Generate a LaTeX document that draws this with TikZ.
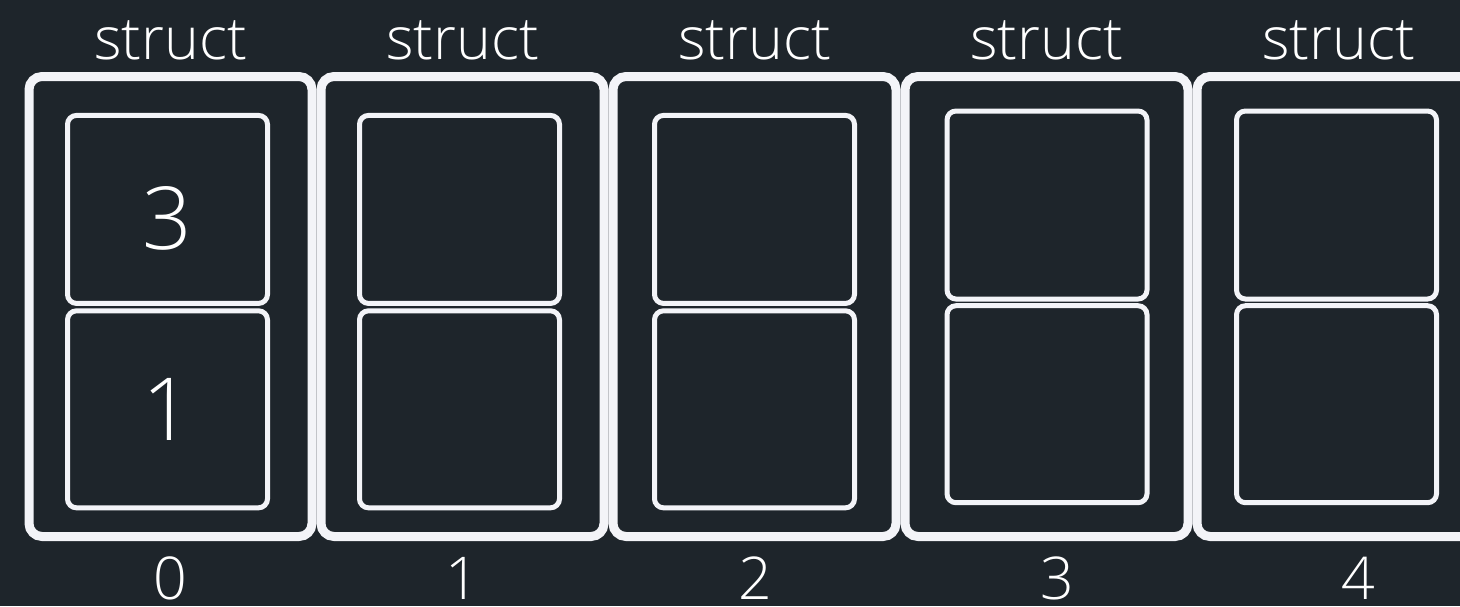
\documentclass[tikz,border=0pt]{standalone}
\usepackage{fontspec}
\setmainfont{Open Sans}[UprightFont={* Light}]
\usepackage{tikz}
\definecolor{boardbg}{HTML}{1E252B}
\definecolor{chalk}{HTML}{F3F4F8}
\tikzset{
  structbox/.style={draw=chalk,line width=9pt,rounded corners=13pt,minimum width=283pt,minimum height=460pt,inner sep=0pt},
  fieldbox/.style={draw=chalk,line width=5pt,rounded corners=9pt,minimum width=200pt,inner sep=0pt,text=white,font=\fontsize{87}{90}\selectfont},
  uppertop/.style={fieldbox,minimum height=188pt},
  upperbot/.style={fieldbox,minimum height=197pt},
  caption/.style={anchor=base,inner sep=0pt,text=white,font=\fontsize{59}{62}\selectfont}
}

\begin{document}
\begin{tikzpicture}[x=1pt,y=-1pt]
  \fill[boardbg] (0,0) rectangle (1460,606);
  \useasboundingbox (0,0) rectangle (1460,606);
  % outer structs
  \node[structbox] (s0) at (170.5,306.5) {};
  \node[structbox] (s1) at (462.5,306.5) {};
  \node[structbox] (s2) at (754.5,306.5) {};
  \node[structbox] (s3) at (1046.5,306.5) {};
  \node[structbox] (s4) at (1338.5,306.5) {};
  % fields
  \node[uppertop,text height=80pt,text depth=0pt] (s0a) at (167.5,209.4) {3};
  \node[upperbot] (s0b) at (167.5,409.3) {1};
  \node[uppertop] (s1a) at (459.5,209.4) {};
  \node[upperbot] (s1b) at (459.5,409.3) {};
  \node[uppertop] (s2a) at (754.5,209.4) {};
  \node[upperbot] (s2b) at (754.5,409.3) {};
  \node[uppertop] (s3a) at (1047,205) {};
  \node[upperbot] (s3b) at (1047,404.2) {};
  \node[uppertop] (s4a) at (1336.5,205) {};
  \node[upperbot] (s4b) at (1336.5,404.2) {};
  % labels
  \node[caption] (t0) at (170.5,59) {struct};
  \node[caption] (t1) at (462.5,59) {struct};
  \node[caption] (t2) at (754.5,59) {struct};
  \node[caption] (t3) at (1046.5,59) {struct};
  \node[caption] (t4) at (1338.5,59) {struct};
  \node[caption] (i0) at (170.5,599.5) {0};
  \node[caption] (i1) at (462,599.5) {1};
  \node[caption] (i2) at (755,599.5) {2};
  \node[caption] (i3) at (1057,599.5) {3};
  \node[caption] (i4) at (1358,599.5) {4};
\end{tikzpicture}
\end{document}
